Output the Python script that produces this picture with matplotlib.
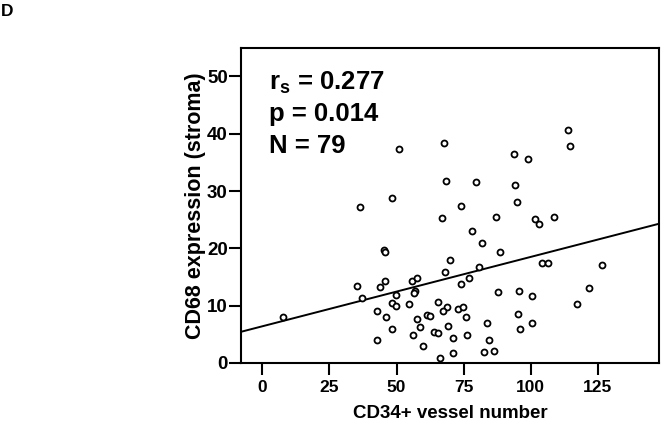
import numpy as np
import matplotlib
matplotlib.use("Agg")
import matplotlib.pyplot as plt

plt.rcParams['font.family'] = 'Liberation Sans'
plt.rcParams['font.weight'] = 'bold'
plt.rcParams['mathtext.fontset'] = 'custom'
plt.rcParams['mathtext.rm'] = 'Liberation Sans:bold'
plt.rcParams['mathtext.bf'] = 'Liberation Sans:bold'

# CD34+ vessel number vs CD68 expression (stroma)
vessels = [51.1, 48.5, 36.3, 45.2, 45.6, 35.1, 45.6, 44.0, 55.8, 57.8,
           37.3, 49.7, 56.9, 56.6, 48.5, 49.7, 54.7, 42.6, 46.0, 7.6,
           57.6, 61.3, 58.6, 48.5, 56.3, 42.6, 59.9, 113.8, 114.5, 67.7,
           93.8, 99.1, 68.4, 79.8, 94.2, 74.0, 94.8, 66.9, 87.1, 101.7,
           103.0, 108.6, 78.0, 81.9, 88.4, 70.0, 67.9, 80.8, 77.2, 74.0,
           104.2, 106.6, 126.5, 121.7, 117.4, 87.7, 95.8, 100.5, 65.4, 68.8,
           67.5, 73.1, 74.7, 75.8, 62.3, 69.3, 63.9, 65.4, 71.1, 76.2,
           83.8, 84.5, 95.3, 95.9, 100.5, 71.0, 82.5, 86.2, 66.3]
cd68 = [37.3, 28.8, 27.2, 19.7, 19.3, 13.4, 14.3, 13.2, 14.3, 14.8,
        11.4, 11.8, 12.6, 12.2, 10.5, 10.0, 10.2, 9.1, 8.0, 8.0,
        7.7, 8.4, 6.2, 6.0, 4.8, 4.0, 3.0, 40.6, 37.9, 38.4,
        36.5, 35.6, 31.8, 31.5, 31.1, 27.4, 28.1, 25.3, 25.4, 25.1,
        24.2, 25.5, 23.0, 20.9, 19.3, 17.9, 15.9, 16.8, 14.9, 13.7,
        17.4, 17.4, 17.1, 13.1, 10.2, 12.4, 12.5, 11.7, 10.6, 9.8,
        9.1, 9.4, 9.8, 8.1, 8.2, 6.5, 5.4, 5.2, 4.4, 4.8,
        7.0, 4.0, 8.5, 6.0, 7.0, 1.7, 1.9, 2.0, 0.9]

# fit line as drawn in the figure
fit_intercept = 6.4
fit_slope = 0.121

stats = ["r$_\\mathregular{s}$ = 0.277", "p = 0.014", "N = 79"]

x_ticks = [0, 25, 50, 75, 100, 125]
y_ticks = [0, 10, 20, 30, 40, 50]

fig = plt.figure(figsize=(6.62, 4.23), dpi=100)
ax = fig.add_axes([0.364, 0.142, 0.632, 0.745])

ax.plot(vessels, cd68, 'o', mfc='white', mec='black', ms=4.3, mew=1.3,
        zorder=3)

xlim = (-8, 148)
xs = np.array(xlim)
ax.plot(xs, fit_intercept + fit_slope * xs, color='black', lw=1.4, zorder=2)

ax.set_xlim(*xlim)
ax.set_ylim(0, 55)
ax.set_xticks(x_ticks)
ax.set_yticks(y_ticks)
for s in ax.spines.values():
    s.set_linewidth(1.5)
ax.tick_params(direction='out', length=8.5, width=1.5)
ax.tick_params(axis='x', pad=4, labelsize=12.5)
ax.tick_params(axis='y', pad=1, labelsize=13.5)

ax.set_xlabel('CD34+ vessel number', fontsize=13.5, fontweight='bold',
              labelpad=7)
ax.set_ylabel('CD68 expression (stroma)', fontsize=15.5, fontweight='bold',
              labelpad=1)

for i, line in enumerate(stats):
    ax.text(0.067, 0.867 - i * 0.1, line, transform=ax.transAxes,
            fontsize=18.5, fontweight='bold', va='baseline', ha='left')

fig.text(0.0015, 1 - 16 / 423, 'D', fontsize=12.5, fontweight='bold',
         va='baseline', ha='left')

fig.savefig('out.png', dpi=100)
